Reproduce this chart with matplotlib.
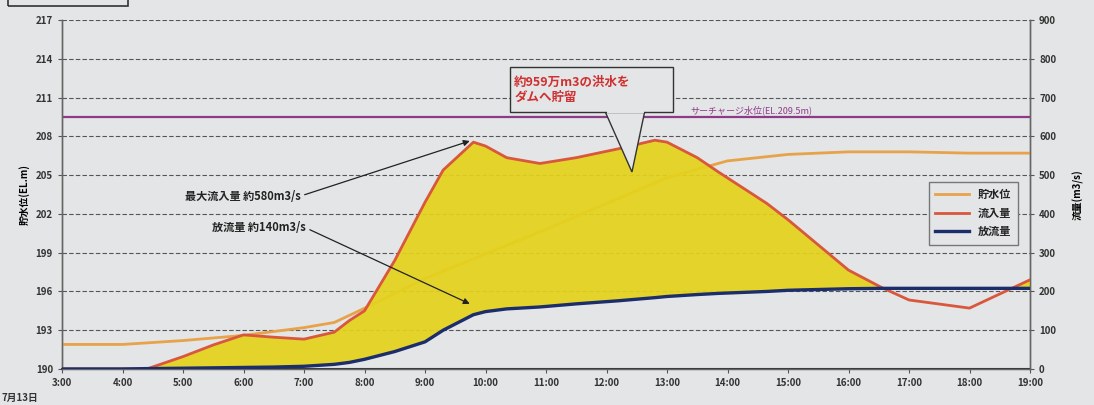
import numpy as np
import matplotlib
matplotlib.use("Agg")
import matplotlib.pyplot as plt
from matplotlib.patches import Polygon, Rectangle

plt.rcParams['font.family'] = ['Noto Sans CJK JP', 'DejaVu Sans']

# ---- data ----
hour_ticks = list(range(3, 20))
hour_labels = ["%d:00" % h for h in hour_ticks]

# flows (m3/s), same time base for both
flow_t = [3, 4, 4.4, 5, 5.5, 6, 6.5, 7, 7.5, 7.75, 8, 8.5, 9, 9.3, 9.8, 10,
          10.35, 10.9, 11.5, 12.2, 12.8, 13, 13.5, 13.85, 14.65, 15, 16,
          16.55, 17, 18, 19]
inflow = [0, 0, 0, 32, 62, 88, 82, 77, 95, 125, 150, 280, 430, 513, 585, 575,
          545, 530, 545, 568, 590, 585, 545, 508, 427, 385, 255,
          210, 178, 157, 230]
outflow = [0, 0, 1, 2, 3, 4, 5, 7, 12, 17, 25, 45, 70, 100, 140, 148,
           155, 160, 168, 176, 184, 187, 192, 195, 200, 203, 207,
           208, 208, 208, 208]

# water level (EL.m)
level_t = [3, 4, 5, 6, 7, 7.5, 8, 9, 10, 11, 12, 13, 14, 15, 16, 17, 18, 19]
level = [191.9, 191.9, 192.2, 192.6, 193.2, 193.6, 194.7, 197.0, 198.9, 200.8,
         202.8, 204.8, 206.1, 206.6, 206.8, 206.8, 206.7, 206.7]

surcharge = 209.5
left_ticks = list(range(190, 218, 3))
right_ticks = list(range(0, 901, 100))

bg = '#e3e5e6'
c_level = '#e8a24a'
c_in = '#d9573d'
c_out = '#1c2d6c'
c_fill = '#e4d21c'
c_purple = '#8e3a8a'

fig = plt.figure(figsize=(10.94, 4.05), dpi=100, facecolor=bg)
ax = fig.add_axes([62/1094, 36/405, 968/1094, 349/405])
ax.set_facecolor(bg)
ax2 = ax.twinx()

ax.set_xlim(3, 19)
ax.set_ylim(190, 217)
ax2.set_ylim(0, 900)

# grid lines
for v in left_ticks[1:]:
    ax.axhline(v, color='#555555', lw=0.8, ls=(0, (4, 2)), zorder=1)

ax.axhline(surcharge, color=c_purple, lw=1.6, zorder=2)
ax.text(13.38, surcharge + 0.15, 'サーチャージ水位(EL.%.1fm)' % surcharge,
        color=c_purple, fontsize=6.5, ha='left', va='bottom')

ax.plot(level_t, level, color=c_level, lw=2, zorder=3)

# stored water area
ax2.fill_between(flow_t, inflow, outflow, where=np.array(inflow) > np.array(outflow),
                 interpolate=True, color=c_fill, alpha=0.93, lw=0, zorder=1)
ax2.plot(flow_t, inflow, color=c_in, lw=2, zorder=3)
ax2.plot(flow_t, outflow, color=c_out, lw=2.4, zorder=3)

# axes styling
ax.set_xticks(hour_ticks)
ax.set_xticklabels(hour_labels)
ax.set_yticks(left_ticks)
ax2.set_yticks(right_ticks)
for a in (ax, ax2):
    a.tick_params(labelsize=7, length=3, color='#555555', width=0.8)
    for s in a.spines.values():
        s.set_color('#666666')
        s.set_linewidth(1)
    a.spines['top'].set_visible(False)
ax.spines['bottom'].set_color('#333333')
ax.spines['bottom'].set_linewidth(1.5)
for lab in ax.get_xticklabels() + ax.get_yticklabels() + ax2.get_yticklabels():
    lab.set_fontweight('bold')
    lab.set_color('#333333')

ax.set_ylabel('貯水位(EL.m)', fontsize=7, fontweight='bold', labelpad=4)
ax2.set_ylabel('流量(m3/s)', fontsize=7, fontweight='bold', rotation=90, labelpad=12)
fig.text(2/1094, 4/405, '7月13日', fontsize=7, fontweight='bold', color='#333333')

# annotations
arrow_kw = dict(arrowstyle='-|>', color='#222222', lw=0.9, mutation_scale=9,
                shrinkA=1, shrinkB=0, relpos=(1.0, 0.5))
ax2.annotate('最大流入量 約580m3/s', xy=(9.74, 588), xytext=(5.03, 446),
             fontsize=8, fontweight='bold', color='#222222', ha='left', va='center',
             arrowprops=arrow_kw, zorder=5)
ax2.annotate('放流量 約140m3/s', xy=(9.74, 168), xytext=(5.48, 364),
             fontsize=8, fontweight='bold', color='#222222', ha='left', va='center',
             arrowprops=arrow_kw, zorder=5)

# callout box with pointer
ax2.add_patch(Polygon([(0.561, 0.738), (0.5888, 0.5645), (0.602, 0.738)],
                      closed=True, transform=ax2.transAxes, facecolor=bg,
                      edgecolor='#333333', lw=1, zorder=6))
ax2.add_patch(Rectangle((0.4628, 0.736), 0.1684, 0.129, transform=ax2.transAxes,
                        facecolor=bg, edgecolor='#333333', lw=1, zorder=7))
ax2.add_patch(Rectangle((0.5625, 0.733), 0.0385, 0.006, transform=ax2.transAxes,
                        facecolor=bg, edgecolor='none', zorder=8))
ax2.text(0.467, 0.80, '約959万m3の洪水を\nダムへ貯留', transform=ax2.transAxes,
         color='#d03030', fontsize=9, fontweight='bold', ha='left', va='center',
         linespacing=1.25, zorder=9)

# legend
h1, = ax.plot([], [], color=c_level, lw=2)
h2, = ax.plot([], [], color=c_in, lw=2)
h3, = ax.plot([], [], color=c_out, lw=2.4)
leg = ax2.legend([h1, h2, h3], ['貯水位', '流入量', '放流量'], loc='upper right',
                 bbox_to_anchor=(0.993, 0.553), fancybox=False, framealpha=1,
                 facecolor=bg, edgecolor='#777777', fontsize=8, handlelength=3,
                 borderpad=0.6, labelspacing=0.5)
for t in leg.get_texts():
    t.set_fontweight('bold')
    t.set_color('#222222')

# title box cut off at the top-left corner
fig.patches.append(Rectangle((8/1094, 399/405), 120/1094, 0.05,
                             transform=fig.transFigure, facecolor='none',
                             edgecolor='#333333', lw=1.2))

fig.savefig('out.png', dpi=100, facecolor=bg)
